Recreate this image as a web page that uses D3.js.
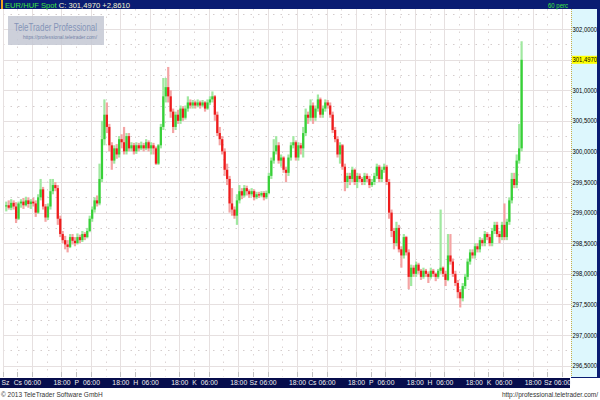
<!DOCTYPE html>
<html><head><meta charset="utf-8">
<script src="https://cdn.jsdelivr.net/npm/d3@7"></script>
<style>body{margin:0;background:#fff}svg{display:block}</style>
</head><body><svg id="c" width="600" height="400"></svg>
<script>
// ---- data (hourly candles, EUR/HUF Spot, 60 perc) ----
const firstHour = -5; // hour index of first candle; 0 = Thu (Cs) 00:00
const opens = [299.10,299.12,299.08,299.16,299.10,298.90,299.15,299.18,299.12,299.20,299.14,299.18,299.15,299.00,299.25,299.38,299.10,298.92,299.10,299.35,
299.45,299.40,298.90,298.65,298.55,298.48,298.44,298.60,298.54,298.50,298.60,298.55,298.65,298.60,298.70,298.90,299.05,299.20,299.15,299.55,
300.20,300.60,300.40,300.10,299.85,300.05,299.95,300.20,300.15,300.00,300.25,300.05,300.10,300.00,300.10,300.05,300.10,300.05,300.15,300.05,
300.10,300.05,299.80,300.10,300.40,300.90,301.05,300.90,300.65,300.40,300.60,300.50,300.70,300.55,300.70,300.80,300.75,300.80,300.75,300.80,
300.75,300.80,300.70,300.80,300.85,300.90,300.60,300.30,300.20,300.00,299.70,299.55,299.15,299.05,298.95,299.20,299.35,299.28,299.40,299.35,
299.30,299.35,299.25,299.30,299.28,299.32,299.25,299.32,299.60,299.85,300.00,300.10,299.85,299.90,299.70,299.65,299.90,300.10,300.15,299.90,
300.10,300.05,300.30,300.60,300.55,300.75,300.55,300.70,300.85,300.60,300.70,300.80,300.75,300.60,300.35,300.20,299.95,300.10,299.75,299.50,
299.60,299.55,299.70,299.50,299.60,299.55,299.50,299.60,299.55,299.45,299.50,299.60,299.75,299.55,299.70,299.75,299.50,299.00,298.70,298.50,
298.75,298.40,298.30,298.60,298.35,297.95,298.10,298.00,298.15,298.05,297.95,298.05,298.00,297.95,298.05,298.00,297.95,298.05,298.10,298.00,
297.90,298.30,298.20,298.00,297.85,297.70,297.60,297.80,297.95,298.20,298.35,298.30,298.45,298.40,298.55,298.50,298.65,298.60,298.50,298.70,
298.80,298.65,298.60,298.80,298.60,298.85,299.20,299.55,299.45,299.85,300.05];
const highs = [299.18,299.20,299.22,299.20,299.17,299.18,299.22,299.24,299.26,299.25,299.22,299.24,299.20,299.30,299.55,299.42,299.14,299.15,299.55,299.55,
299.50,299.45,298.95,298.70,298.62,298.55,298.65,298.65,298.60,298.66,298.64,298.70,298.68,298.75,298.95,299.10,299.25,299.28,299.80,300.50,
300.85,300.80,300.45,300.15,300.10,300.12,300.25,300.28,300.40,300.30,300.30,300.15,300.14,300.15,300.14,300.16,300.14,300.20,300.18,300.15,
300.14,300.08,300.12,300.45,301.20,301.20,301.38,301.00,300.70,300.65,300.68,300.75,300.74,300.75,300.90,300.85,300.84,300.83,300.85,300.83,
300.84,300.82,300.85,300.90,300.98,300.92,300.65,300.40,300.25,300.05,299.80,299.60,299.40,299.10,299.30,299.45,299.40,299.45,299.44,299.38,
299.40,299.38,299.34,299.34,299.35,299.35,299.36,299.65,299.90,300.20,300.25,300.15,299.95,299.92,299.75,299.95,300.15,300.25,300.18,300.15,
300.14,300.40,300.70,300.65,300.85,300.80,300.75,300.93,300.88,300.75,300.85,300.84,300.80,300.65,300.40,300.25,300.15,300.12,299.80,299.65,
299.65,299.75,299.72,299.65,299.64,299.58,299.65,299.64,299.60,299.55,299.65,299.80,299.78,299.75,299.80,299.78,299.55,299.05,298.75,298.85,
298.80,298.45,298.65,298.62,298.40,298.15,298.14,298.20,298.18,298.08,298.10,298.08,298.04,298.10,298.08,298.02,298.08,299.05,298.12,298.05,
298.65,298.65,298.25,298.05,297.90,297.75,297.85,298.00,298.25,298.40,298.40,298.50,298.50,298.60,298.58,298.70,298.68,298.65,298.75,298.85,
298.85,298.70,298.85,299.15,298.90,299.25,299.65,299.65,299.95,300.45,301.80];
const lows = [299.02,299.05,299.04,299.05,298.83,298.88,299.08,299.06,299.10,299.08,299.06,299.10,298.93,298.98,299.20,299.05,298.85,298.88,299.05,299.30,
299.35,298.80,298.60,298.50,298.40,298.35,298.42,298.48,298.45,298.48,298.50,298.52,298.55,298.58,298.68,298.85,299.00,299.10,299.12,299.50,
300.10,300.30,300.00,299.70,299.80,299.88,299.90,300.05,299.95,299.95,300.00,300.00,299.95,299.96,300.00,300.02,300.00,300.02,300.00,299.95,
299.95,299.78,299.78,300.05,300.35,300.80,300.80,300.55,300.30,300.35,300.45,300.45,300.50,300.52,300.65,300.70,300.70,300.70,300.72,300.70,
300.72,300.65,300.68,300.76,300.80,300.50,300.25,300.10,299.95,299.60,299.45,299.00,298.95,298.90,298.80,299.15,299.22,299.25,299.28,299.24,
299.26,299.20,299.22,299.24,299.25,299.20,299.22,299.30,299.55,299.80,299.95,299.80,299.75,299.65,299.50,299.60,299.85,300.05,299.85,299.85,
299.95,299.90,300.25,300.45,300.50,300.45,300.50,300.65,300.55,300.55,300.65,300.70,300.55,300.30,300.15,299.90,299.80,299.70,299.35,299.40,
299.45,299.50,299.45,299.40,299.50,299.45,299.45,299.50,299.40,299.42,299.45,299.55,299.50,299.50,299.65,299.45,298.90,298.60,298.40,298.45,
298.35,298.10,298.25,298.30,297.75,297.80,297.95,297.95,298.00,297.90,297.92,297.95,297.85,297.92,297.95,297.88,297.92,298.00,297.95,297.80,
297.88,298.15,297.95,297.80,297.60,297.45,297.55,297.75,297.90,298.15,298.25,298.25,298.35,298.35,298.45,298.45,298.55,298.45,298.45,298.65,
298.60,298.50,298.55,298.55,298.55,298.80,299.15,299.40,299.40,299.80,300.00];
const closes = [299.12,299.08,299.16,299.10,298.90,299.15,299.18,299.12,299.20,299.14,299.18,299.15,299.00,299.25,299.38,299.10,298.92,299.10,299.35,299.45,
299.40,298.90,298.65,298.55,298.48,298.44,298.60,298.54,298.50,298.60,298.55,298.65,298.60,298.70,298.90,299.05,299.20,299.15,299.55,300.20,
300.60,300.40,300.10,299.85,300.05,299.95,300.20,300.15,300.00,300.25,300.05,300.10,300.00,300.10,300.05,300.10,300.05,300.15,300.05,300.10,
300.05,299.80,300.10,300.40,300.90,301.05,300.90,300.65,300.40,300.60,300.50,300.70,300.55,300.70,300.80,300.75,300.80,300.75,300.80,300.75,
300.80,300.70,300.80,300.85,300.90,300.60,300.30,300.20,300.00,299.70,299.55,299.15,299.05,298.95,299.20,299.35,299.28,299.40,299.35,299.30,
299.35,299.25,299.30,299.28,299.32,299.25,299.32,299.60,299.85,300.00,300.10,299.85,299.90,299.70,299.65,299.90,300.10,300.15,299.90,300.10,
300.05,300.30,300.60,300.55,300.75,300.55,300.70,300.85,300.60,300.70,300.80,300.75,300.60,300.35,300.20,299.95,300.10,299.75,299.50,299.60,
299.55,299.70,299.50,299.60,299.55,299.50,299.60,299.55,299.45,299.50,299.60,299.75,299.55,299.70,299.75,299.50,299.00,298.70,298.50,298.75,
298.40,298.30,298.60,298.35,297.95,298.10,298.00,298.15,298.05,297.95,298.05,298.00,297.95,298.05,298.00,297.95,298.05,298.10,298.00,297.90,
298.30,298.20,298.00,297.85,297.70,297.60,297.80,297.95,298.20,298.35,298.30,298.45,298.40,298.55,298.50,298.65,298.60,298.50,298.70,298.80,
298.65,298.60,298.80,298.60,298.85,299.20,299.55,299.45,299.85,300.05,301.497];
const priceTicks = [296.5,297,297.5,298,298.5,299,299.5,300,300.5,301,301.5,302];
const timeTickHours = [-6,0,6,18,24,30,42,48,54,66,72,78,90,96,102,114,120,126,138,144,150,162,168,174,186,192,198,210,216,222];
const timeTickLabels = ["Sz","Cs","06:00","18:00","P","06:00","18:00","H","06:00","18:00","K","06:00","18:00","Sz","06:00","18:00","Cs","06:00","18:00","P","06:00","18:00","H","06:00","18:00","K","06:00","18:00","Sz","06:00"];
const symbol = "EUR/HUF Spot";
const lastText = "C: 301,4970 +2,8610";
const lastPrice = 301.497;
const periodText = "60 perc";

// ---- drawing ----
const svg = d3.select("#c");
const FONT = "'Liberation Sans', Arial, sans-serif";
const L = 3, R = 571, T = 9, B = 377;
const x = d3.scaleLinear().domain([-5.83, 225.63]).range([L, R]);
const y = d3.scaleLinear().domain([296.314, 302.327]).range([B, T]);
const loc = d3.formatLocale({decimal: ",", thousands: ".", grouping: [3], currency: ["", ""]});
const fmt = loc.format(".4f");

svg.append("rect").attr("width", 600).attr("height", 400).attr("fill", "#fff");

// grid
const grid = svg.append("g");
const quarter = d3.range(296.25, 302.5, 0.25).filter(v => y(v) > T && y(v) < B);
quarter.forEach(v => {
  const major = Math.abs(v * 2 - Math.round(v * 2)) < 1e-6;
  grid.append("line").attr("x1", L).attr("x2", R).attr("y1", Math.round(y(v)) + 0.5).attr("y2", Math.round(y(v)) + 0.5)
    .attr("stroke", major ? "#e6e0e0" : "#d4cccc").attr("stroke-width", 1)
    .attr("stroke-dasharray", major ? null : "1.5,6");
});
d3.range(-6, 228, 6).forEach(h => {
  const xx = Math.round(x(h)) + 0.5;
  if (xx < L || xx > R) return;
  const major = ((h % 12) + 12) % 12 === 6;
  grid.append("line").attr("x1", xx).attr("x2", xx).attr("y1", T).attr("y2", B)
    .attr("stroke", major ? "#e6e0e0" : "#dcd4d4").attr("stroke-width", 1)
    .attr("stroke-dasharray", major ? null : "1.5,6");
});

// watermark
const wm = svg.append("g");
wm.append("rect").attr("x", 8).attr("y", 16).attr("width", 96).attr("height", 29).attr("fill", "#c4c8d4").attr("opacity", 0.85);
wm.append("text").attr("x", 14).attr("y", 31).attr("font-family", FONT).attr("font-size", 11.5).attr("fill", "#8494b8")
  .attr("textLength", 83).attr("lengthAdjust", "spacingAndGlyphs").text("TeleTrader Professional");
wm.append("text").attr("x", 23).attr("y", 38.5).attr("font-family", FONT).attr("font-size", 5).attr("fill", "#7484a8")
  .attr("textLength", 74).attr("lengthAdjust", "spacingAndGlyphs").text("https://professional.teletrader.com/");

// candles
const candles = closes.map((c, k) => ({h: firstHour + k, o: opens[k], hi: highs[k], lo: lows[k], c}));
const cg = svg.append("g");
cg.selectAll(".wick").data(candles).join("rect")
  .attr("x", d => x(d.h + 0.5) - 1.1).attr("width", 2.2)
  .attr("y", d => y(d.hi)).attr("height", d => Math.max(1, y(d.lo) - y(d.hi)))
  .attr("fill", d => d.c >= d.o ? "#a0e8a0" : "#f4a4a4");
cg.selectAll(".body").data(candles).join("rect")
  .attr("x", d => x(d.h + 0.5) - 1.1).attr("width", 2.2)
  .attr("y", d => y(Math.max(d.o, d.c))).attr("height", d => Math.max(1, Math.abs(y(d.o) - y(d.c))))
  .attr("fill", d => d.c >= d.o ? "#38d038" : "#ee1c1c");

// right axis panel
svg.append("rect").attr("x", R).attr("y", T).attr("width", 597 - R).attr("height", B - T).attr("fill", "#ddf7fd");
svg.append("line").attr("x1", R + 0.5).attr("x2", R + 0.5).attr("y1", T).attr("y2", B)
  .attr("stroke", "#c8b048").attr("stroke-dasharray", "1,1");
const yAxis = svg.append("g").attr("transform", `translate(${R},0)`)
  .call(d3.axisRight(y).tickValues(priceTicks).tickFormat(fmt).tickSize(0).tickPadding(1.5));
yAxis.select(".domain").remove();
yAxis.selectAll("text").attr("font-family", FONT).attr("font-size", 6.5).attr("fill", "#000")
  .attr("textLength", 24.5).attr("lengthAdjust", "spacingAndGlyphs");
// last price marker
svg.append("rect").attr("x", R + 1).attr("y", y(lastPrice) - 4).attr("width", 597 - R - 1).attr("height", 8).attr("fill", "#ffff00");
svg.append("text").attr("x", R + 1.5).attr("y", y(lastPrice)).attr("dy", "0.32em").attr("font-family", FONT)
  .attr("font-size", 6.5).attr("fill", "#000").attr("textLength", 24.5).attr("lengthAdjust", "spacingAndGlyphs").text(fmt(lastPrice));
svg.append("rect").attr("x", 597).attr("y", 0).attr("width", 3).attr("height", 378).attr("fill", "#0a1c72");
svg.append("rect").attr("x", R).attr("y", B).attr("width", 600 - R).attr("height", 1).attr("fill", "#0a1c72");

// small ticks at bottom of plot
timeTickHours.forEach(h => {
  const xx = Math.round(x(h)) + 0.5;
  if (xx < L || xx > R) return;
  svg.append("line").attr("x1", xx).attr("x2", xx).attr("y1", B - 5).attr("y2", B).attr("stroke", "#c0c0c0");
});

// title bar
svg.append("rect").attr("x", 0).attr("y", 0).attr("width", 600).attr("height", 9).attr("fill", "#0a1c72");
svg.append("rect").attr("x", 1).attr("y", 0).attr("width", 2).attr("height", 9).attr("fill", "#f0a020");
const title = svg.append("text").attr("x", 5).attr("y", 7.6).attr("font-family", FONT).attr("font-size", 7.5)
  .attr("textLength", 125).attr("lengthAdjust", "spacingAndGlyphs");
title.append("tspan").attr("fill", "#3ee63e").text(symbol + " ");
title.append("tspan").attr("fill", "#f4f4d0").text(lastText);
svg.append("text").attr("x", 548).attr("y", 7.6).attr("font-family", FONT).attr("font-size", 8).attr("fill", "#3ee63e")
  .attr("textLength", 20).attr("lengthAdjust", "spacingAndGlyphs").text(periodText);

// bottom time axis bar
svg.append("rect").attr("x", 0).attr("y", 378).attr("width", 570).attr("height", 10).attr("fill", "#060d4c");
const labelMap = new Map(timeTickHours.map((h, i) => [h, timeTickLabels[i]]));
const xAxis = svg.append("g").attr("transform", "translate(0,378)")
  .call(d3.axisBottom(x).tickValues(timeTickHours).tickFormat(h => labelMap.get(h)).tickSize(0).tickPadding(0));
xAxis.select(".domain").remove();
xAxis.selectAll("text").attr("font-family", FONT).attr("font-size", 6.8).attr("fill", "#f0f0f0").attr("y", 2)
  .each(function(h) {
    const t = d3.select(this);
    if (x(h) < 6) t.attr("text-anchor", "start").attr("x", 1 - x(h));
  });
xAxis.selectAll(".tick").filter(h => x(h) > 566).remove();

// footer
svg.append("text").attr("x", 1).attr("y", 397).attr("font-family", FONT).attr("font-size", 6.5).attr("fill", "#333")
  .text("© 2013 TeleTrader Software GmbH");
svg.append("text").attr("x", 598).attr("y", 397).attr("text-anchor", "end").attr("font-family", FONT).attr("font-size", 6.5).attr("fill", "#333")
  .text("http://professional.teletrader.com/");
</script></body></html>
